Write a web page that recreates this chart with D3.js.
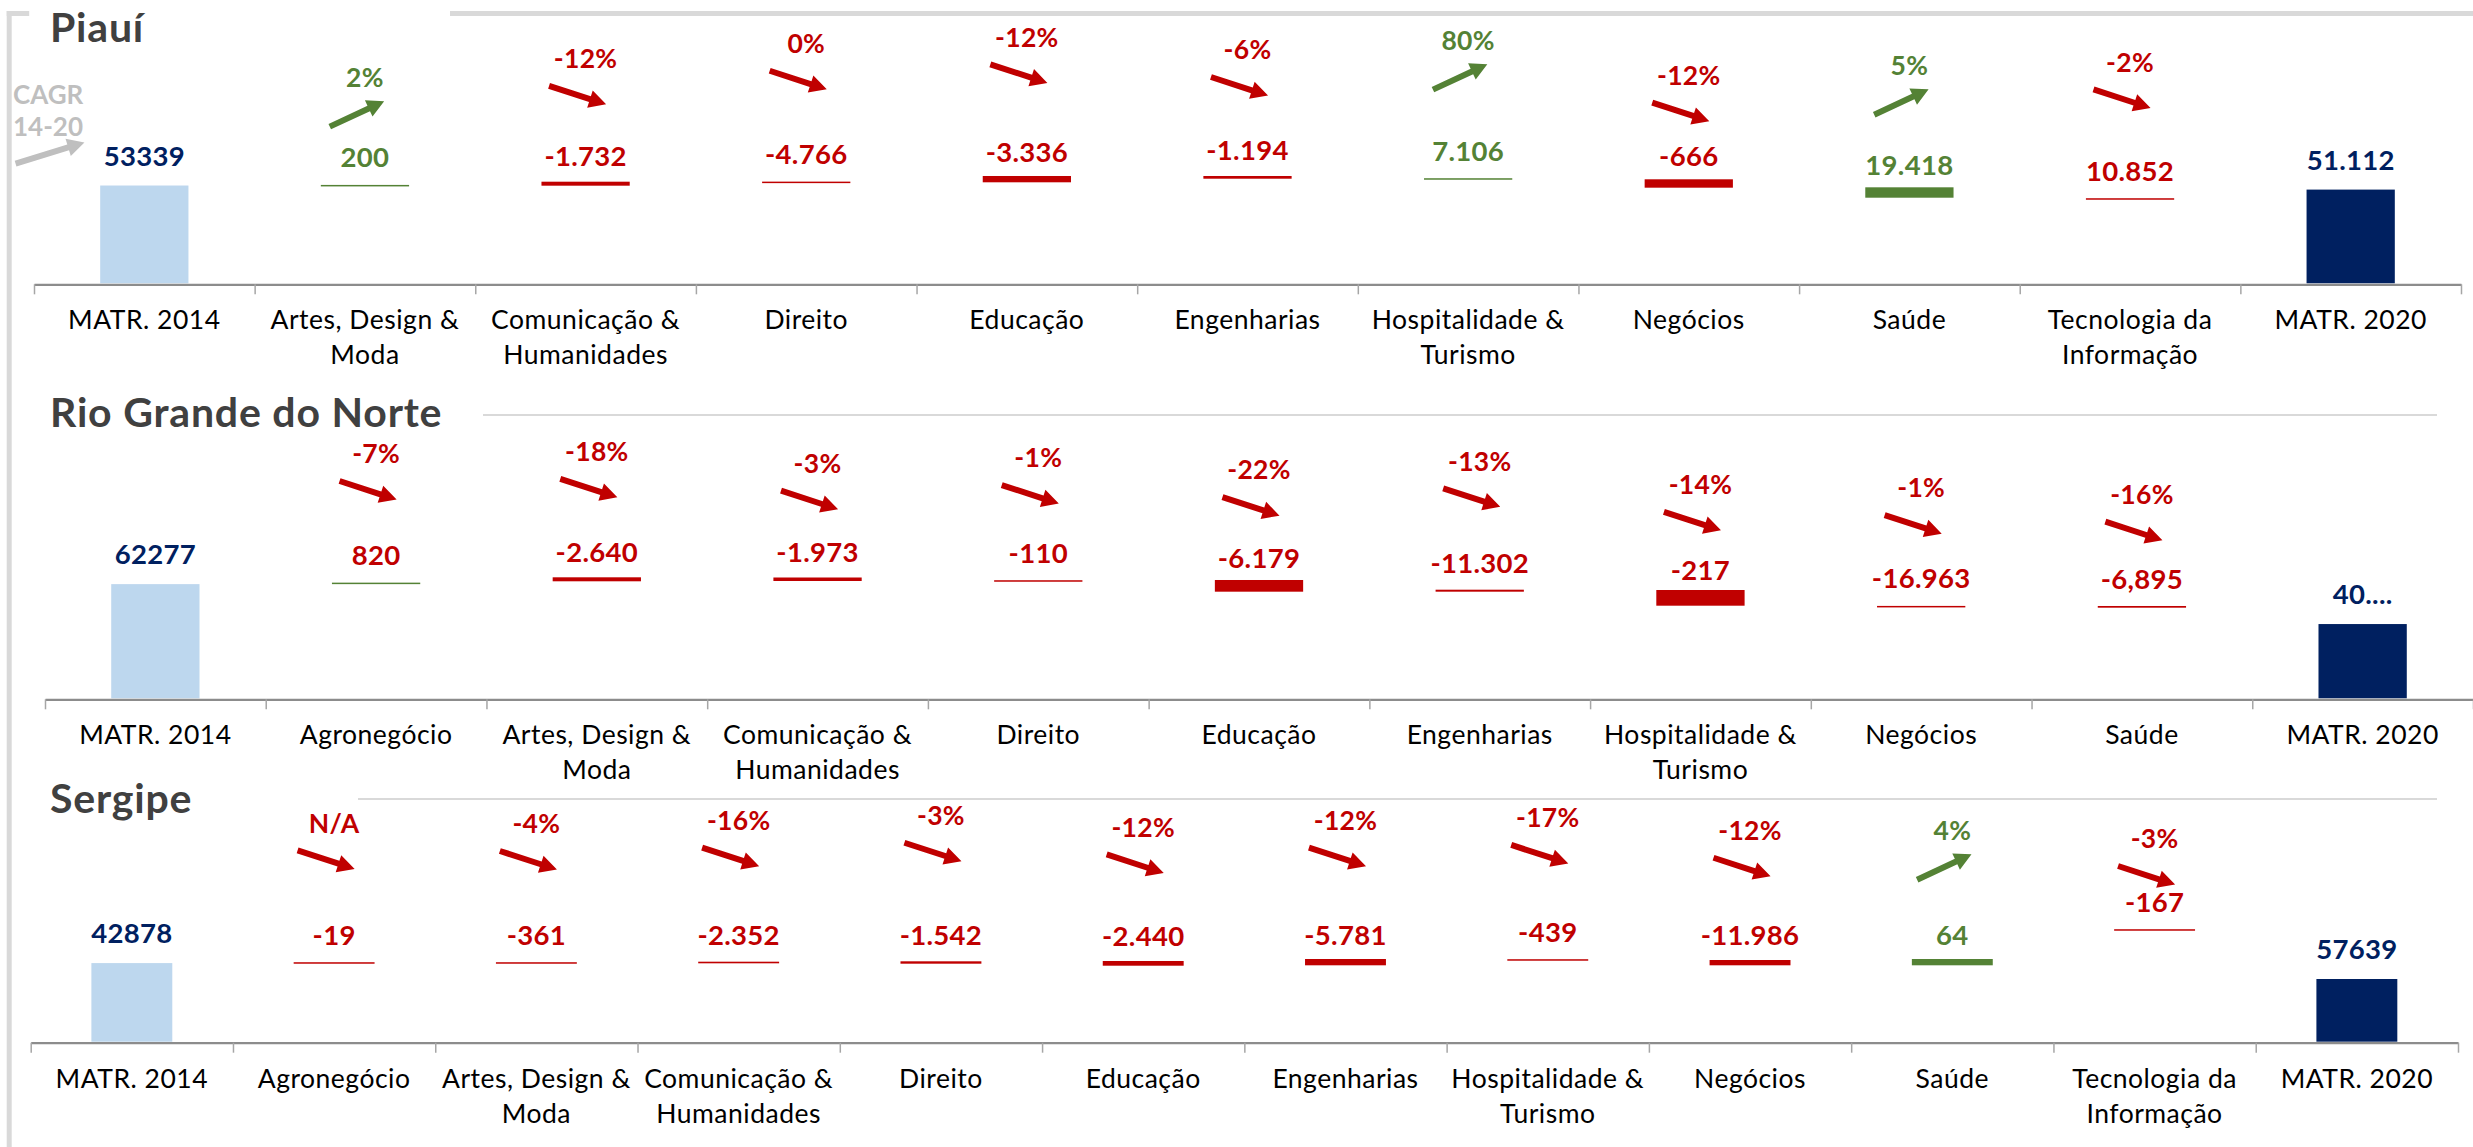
<!DOCTYPE html>
<html>
<head>
<meta charset="utf-8">
<script src="https://cdn.jsdelivr.net/npm/d3@7"></script>
<style>
  body { margin: 0; background: #fff; }
  svg { display: block; font-family: Lato, "Open Sans", sans-serif; }
</style>
</head>
<body>
<svg width="2473" height="1147"></svg>
<script>
// Piauí
let piauiCategories = ["MATR. 2014", "Artes, Design & Moda", "Comunicação & Humanidades", "Direito", "Educação", "Engenharias", "Hospitalidade & Turismo", "Negócios", "Saúde", "Tecnologia da Informação", "MATR. 2020"];
let piauiLabels = ["53339", "200", "-1.732", "-4.766", "-3.336", "-1.194", "7.106", "-666", "19.418", "10.852", "51.112"];
let piauiBarLow = [0, 53580, 53240, 55380, 55090, 57050, 57230, 52150, 46690, 46320, 0];
let piauiBarHigh = [53339, 53660, 55420, 55460, 58530, 58530, 57310, 56730, 52360, 46400, 51112];
let piauiBarUp = [false, true, false, false, false, false, true, false, true, false, false];
let piauiCagr = [null, 2, -12, 0, -12, -6, 80, -12, 5, -2, null];
let piauiCagrLevel = [null, 107100, 117400, 125600, 129100, 122200, 127300, 108200, 113600, 115400, null];

// Rio Grande do Norte
let rnCategories = ["MATR. 2014", "Agronegócio", "Artes, Design & Moda", "Comunicação & Humanidades", "Direito", "Educação", "Engenharias", "Hospitalidade & Turismo", "Negócios", "Saúde", "MATR. 2020"];
let rnLabels = ["62277", "820", "-2.640", "-1.973", "-110", "-6.179", "-11.302", "-217", "-16.963", "-6,895", "40...."];
let rnBarLow = [0, 63010, 63820, 63980, 64320, 58150, 58150, 50510, 50310, 49420, 0];
let rnBarHigh = [62277, 63090, 66000, 65890, 64400, 64530, 59240, 59070, 50390, 50350, 40500];
let rnBarUp = [false, true, false, false, false, false, false, false, false, false, false];
let rnCagr = [null, -7, -18, -3, -1, -22, -13, -14, -1, -16, null];
let rnCagrLevel = [null, 128200, 129400, 122900, 126000, 119400, 124200, 111400, 109600, 106000, null];

// Sergipe
let seCategories = ["MATR. 2014", "Agronegócio", "Artes, Design & Moda", "Comunicação & Humanidades", "Direito", "Educação", "Engenharias", "Hospitalidade & Turismo", "Negócios", "Saúde", "Tecnologia da Informação", "MATR. 2020"];
let seLabels = ["42878", "-19", "-361", "-2.352", "-1.542", "-2.440", "-5.781", "-439", "-11.986", "64", "-167", "57639"];
let seBarLow = [0, 43270, 43270, 42760, 42550, 41450, 41670, 44910, 41670, 41670, 61270, 0];
let seBarHigh = [42878, 43350, 43350, 43640, 43850, 44020, 45110, 44990, 44560, 45110, 61350, 34200];
let seBarUp = [false, false, false, false, false, false, false, false, false, true, false, false];
let seCagr = [null, "N/A", -4, -16, -3, -12, -12, -17, -12, 4, -3, null];
let seCagrLevel = [null, 114000, 113700, 115500, 118200, 111800, 115500, 117000, 110000, 110000, 105500, null];

let colors = { up: "#548235", down: "#c00000", start: "#bdd7ee", end: "#002060", frame: "#d9d9d9", title: "#404040" };

let panels = [
    { title: "Piauí", categories: piauiCategories, labels: piauiLabels, low: piauiBarLow, high: piauiBarHigh, up: piauiBarUp, cagr: piauiCagr, level: piauiCagrLevel,
      titleY: 42, axisY: 283.3, x0: 34, x1: 2461, rule: null },
    { title: "Rio Grande do Norte", categories: rnCategories, labels: rnLabels, low: rnBarLow, high: rnBarHigh, up: rnBarUp, cagr: rnCagr, level: rnCagrLevel,
      titleY: 427, axisY: 698.3, x0: 45, x1: 2473, rule: [483, 2437, 415] },
    { title: "Sergipe", categories: seCategories, labels: seLabels, low: seBarLow, high: seBarHigh, up: seBarUp, cagr: seCagr, level: seCagrLevel,
      titleY: 813, axisY: 1041.7, x0: 30.7, x1: 2458, rule: [358, 2437, 799] }
];

let svg = d3.select("svg");

// Frame round the first panel
svg.append("rect").attr("x", 6.7).attr("y", 11).attr("width", 5).attr("height", 1136).attr("fill", colors.frame);
svg.append("rect").attr("x", 6.7).attr("y", 11).attr("width", 22.5).attr("height", 5).attr("fill", colors.frame);
svg.append("rect").attr("x", 450).attr("y", 11).attr("width", 2023).attr("height", 5).attr("fill", colors.frame);

// Block arrow pointing right, centered on the origin
function arrowPath(len) {
    let h = len / 2;
    return `M${-h},-3L${h - 17},-3L${h - 17},-9L${h},0L${h - 17},9L${h - 17},3L${-h},3Z`;
}

function wrap(text, width) {
    text.each(function () {
        let t = d3.select(this);
        let words = t.text().split(/\s+/);
        let x = t.attr("x");
        let line = [];
        let tspan = t.text(null).append("tspan").attr("x", x).attr("dy", 0);
        words.forEach(word => {
            line.push(word);
            tspan.text(line.join(" "));
            if (tspan.node().getComputedTextLength() > width && line.length > 1) {
                line.pop();
                tspan.text(line.join(" "));
                line = [word];
                tspan = t.append("tspan").attr("x", x).attr("dy", 35).text(word);
            };
        });
    });
}

// CAGR legend
let legend = svg.append("g").attr("fill", "#bfbfbf").attr("font-weight", 700).attr("font-size", 26);
legend.append("text").attr("x", 13).attr("y", 104).text("CAGR");
legend.append("text").attr("x", 13).attr("y", 136).text("14-20");
svg.append("path")
    .attr("d", arrowPath(72))
    .attr("transform", "translate(50,153) rotate(-17)")
    .attr("fill", "#bfbfbf");

panels.forEach(p => {
    let n = p.categories.length;
    let g = svg.append("g");

    let x = d3.scaleBand().domain(d3.range(n)).range([p.x0, p.x1]).paddingInner(0.6).paddingOuter(0.3);
    let edges = d3.scaleLinear().domain([0, n]).range([p.x0, p.x1]);
    let y = d3.scaleLinear().domain([0, 60000]).range([p.axisY, p.axisY - 110]);
    let cx = i => x(i) + x.bandwidth() / 2;

    g.append("text")
        .attr("x", 50).attr("y", p.titleY)
        .attr("font-size", 41).attr("font-weight", 700)
        .attr("letter-spacing", 0.8)
        .attr("fill", colors.title)
        .text(p.title);

    if (p.rule) {
        g.append("line")
            .attr("x1", p.rule[0]).attr("x2", p.rule[1])
            .attr("y1", p.rule[2]).attr("y2", p.rule[2])
            .attr("stroke", colors.frame).attr("stroke-width", 2);
    };

    let rows = d3.range(n).map(i => ({
        i: i,
        total: i == 0 || i == n - 1,
        low: p.low[i],
        high: p.high[i],
        up: p.up[i],
        label: p.labels[i],
        cagr: p.cagr[i],
        level: p.level[i]
    }));

    g.selectAll(".bar").data(rows).join("rect")
        .attr("class", "bar")
        .attr("x", d => x(d.i))
        .attr("width", x.bandwidth())
        .attr("y", d => y(d.high))
        .attr("height", d => Math.max(y(d.low) - y(d.high), 1.5))
        .attr("fill", d => d.i == 0 ? colors.start : d.i == n - 1 ? colors.end : d.up ? colors.up : colors.down);

    let trendUp = d => typeof d.cagr == "number" && d.cagr > 0;

    g.selectAll(".value").data(rows).join("text")
        .attr("class", "value")
        .attr("x", d => cx(d.i))
        .attr("y", d => d.total ? y(d.high) - 20 : (y(d.low) + y(d.high)) / 2 - 17.5)
        .attr("text-anchor", "middle")
        .attr("font-size", 27.5).attr("font-weight", 700)
        .attr("letter-spacing", 0.3)
        .attr("fill", d => d.total ? colors.end : trendUp(d) ? colors.up : colors.down)
        .text(d => d.label);

    let steps = rows.filter(d => d.cagr != null);

    g.selectAll(".cagr").data(steps).join("text")
        .attr("class", "cagr")
        .attr("x", d => cx(d.i))
        .attr("y", d => y(d.level))
        .attr("text-anchor", "middle")
        .attr("font-size", 26.5).attr("font-weight", 700)
        .attr("letter-spacing", 0.3)
        .attr("fill", d => trendUp(d) ? colors.up : colors.down)
        .text(d => typeof d.cagr == "number" ? d.cagr + "%" : d.cagr);

    g.selectAll(".arrow").data(steps).join("path")
        .attr("class", "arrow")
        .attr("d", arrowPath(60))
        .attr("transform", d => `translate(${cx(d.i) - 8},${y(d.level) + 27}) rotate(${trendUp(d) ? -25 : 18})`)
        .attr("fill", d => trendUp(d) ? colors.up : colors.down);

    // Category axis with ticks between categories
    let axis = g.append("g")
        .attr("transform", `translate(0,${p.axisY + 1})`)
        .call(d3.axisBottom(edges).tickValues(d3.range(n + 1)).tickSize(10).tickSizeOuter(0).tickFormat(""));
    axis.select(".domain").attr("stroke", "#8c8c8c").attr("stroke-width", 2.2);
    axis.selectAll(".tick line").attr("stroke", "#a6a6a6").attr("stroke-width", 1.5);

    g.selectAll(".cat").data(rows).join("text")
        .attr("class", "cat")
        .attr("x", d => cx(d.i))
        .attr("y", p.axisY + 46)
        .attr("text-anchor", "middle")
        .attr("font-size", 26.5)
        .attr("letter-spacing", 0.5)
        .attr("fill", "#000")
        .text(d => p.categories[d.i])
        .call(wrap, edges(1) - edges(0) - 4);
});
</script>
</body>
</html>
